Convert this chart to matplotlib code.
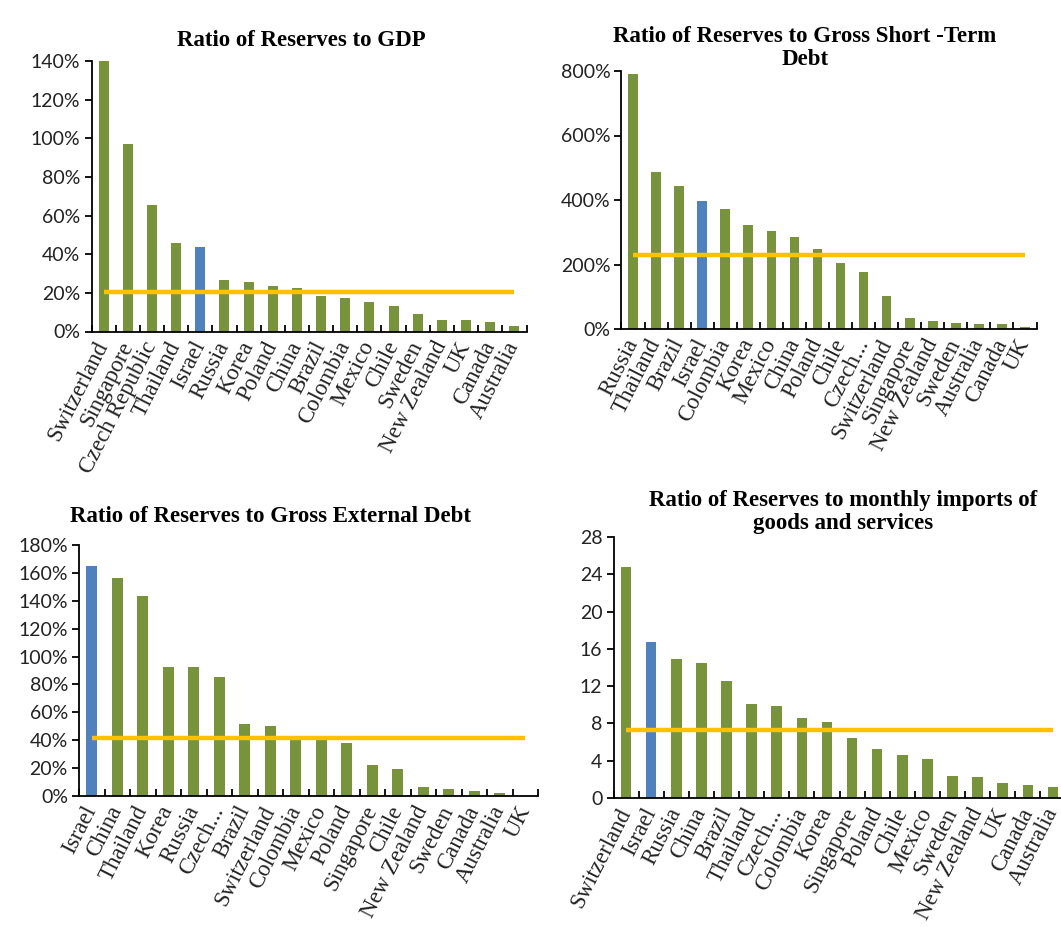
import numpy as np
import matplotlib
matplotlib.use("Agg")
import matplotlib.pyplot as plt
from matplotlib.ticker import FuncFormatter, MultipleLocator

# ---- data ----
gdp_countries = ["Switzerland", "Singapore", "Czech Republic", "Thailand", "Israel", "Russia",
                 "Korea", "Poland", "China", "Brazil", "Colombia", "Mexico", "Chile", "Sweden",
                 "New Zealand", "UK", "Canada", "Australia"]
gdp_values = [140, 97.3, 65.7, 45.7, 43.5, 26.8, 25.8, 23.7, 22.7, 18.6, 17.4, 15.3, 13.4, 9.1,
              5.8, 5.8, 4.8, 2.7]
gdp_avg = 20.5

std_countries = ["Russia", "Thailand", "Brazil", "Israel", "Colombia", "Korea", "Mexico", "China",
                 "Poland", "Chile", "Czech...", "Switzerland", "Singapore", "New Zealand", "Sweden",
                 "Australia", "Canada", "UK"]
std_values = [790, 486, 443, 398, 373, 322, 304, 285, 247, 204, 178, 102, 33, 26, 20, 15, 15, 6]
std_avg = 228

ext_countries = ["Israel", "China", "Thailand", "Korea", "Russia", "Czech...", "Brazil",
                 "Switzerland", "Colombia", "Mexico", "Poland", "Singapore", "Chile",
                 "New Zealand", "Sweden", "Canada", "Australia", "UK"]
ext_values = [165, 156.5, 143.6, 92.2, 92.2, 85, 51.3, 50, 41.6, 41, 38.3, 22.5, 19.4, 6.5, 4.8,
              3.4, 2.2, 0.3]
ext_avg = 41.5

imp_countries = ["Switzerland", "Israel", "Russia", "China", "Brazil", "Thailand", "Czech...",
                 "Colombia", "Korea", "Singapore", "Poland", "Chile", "Mexico", "Sweden",
                 "New Zealand", "UK", "Canada", "Australia"]
imp_values = [24.8, 16.7, 14.9, 14.5, 12.5, 10.1, 9.9, 8.6, 8.1, 6.4, 5.3, 4.6, 4.2, 2.4, 2.2,
              1.6, 1.4, 1.15]
imp_avg = 7.3

GREEN = "#77933C"
BLUE = "#4F81BD"
GOLD = "#FFC000"

W, H = 1061, 927
fig = plt.figure(figsize=(W / 100, H / 100), dpi=100)


def px_axes(left, right, top, bottom):
    return fig.add_axes([left / W, 1 - bottom / H, (right - left) / W, (bottom - top) / H])


def panel(ax, countries, values, avg, ymax, step, pct):
    x = np.arange(len(countries))
    colors = [BLUE if c == "Israel" else GREEN for c in countries]
    ax.bar(x, values, width=0.42, color=colors, zorder=2)
    ax.plot([x[0], x[-1]], [avg, avg], color=GOLD, lw=3.2, zorder=3, solid_capstyle="butt")
    ax.set_xlim(-0.5, len(countries) - 0.5)
    ax.set_ylim(0, ymax)
    ax.yaxis.set_major_locator(MultipleLocator(step))
    if pct:
        ax.yaxis.set_major_formatter(FuncFormatter(lambda v, p: "%d%%" % v))
    for s in ["top", "right"]:
        ax.spines[s].set_visible(False)
    for s in ["left", "bottom"]:
        ax.spines[s].set_linewidth(1.3)
    ax.set_xticks(x)
    ax.set_xticklabels(countries, rotation=63, ha="right", va="center",
                       rotation_mode="anchor", family="Liberation Serif", fontsize=16.5,
                       color="#222222")
    ax.tick_params(axis="x", length=0, pad=8)
    ax.set_xticks(np.arange(len(countries) + 1) - 0.5, minor=True)
    ax.tick_params(axis="x", which="minor", direction="in", length=5, width=1.3)
    ax.tick_params(axis="y", direction="out", length=5, width=1.3, pad=3)
    for t in ax.get_yticklabels():
        t.set_family("Lato")
        t.set_fontsize(14)
        t.set_color("#222222")


ax1 = px_axes(91.5, 526.5, 61, 331.5)
panel(ax1, gdp_countries, gdp_values, gdp_avg, 140, 20, True)
ax2 = px_axes(621.5, 1036.5, 71, 329)
panel(ax2, std_countries, std_values, std_avg, 800, 200, True)
ax3 = px_axes(79, 538, 545, 796)
panel(ax3, ext_countries, ext_values, ext_avg, 180, 20, True)
ax4 = px_axes(613.5, 1065.5, 537, 798)
panel(ax4, imp_countries, imp_values, imp_avg, 28, 4, False)

tkw = dict(ha="center", va="center", family="Liberation Serif", fontweight="bold",
           fontsize=16.5, linespacing=1.15)
fig.text(301 / W, 1 - 40 / H, "Ratio of Reserves to GDP", **tkw)
fig.text(805 / W, 1 - 48 / H, "Ratio of Reserves to Gross Short -Term\nDebt", **tkw)
fig.text(270 / W, 1 - 516 / H, "Ratio of Reserves to Gross External Debt", **tkw)
fig.text(843 / W, 1 - 512 / H, "Ratio of Reserves to monthly imports of\ngoods and services", **tkw)

fig.savefig("out.png", dpi=100)
